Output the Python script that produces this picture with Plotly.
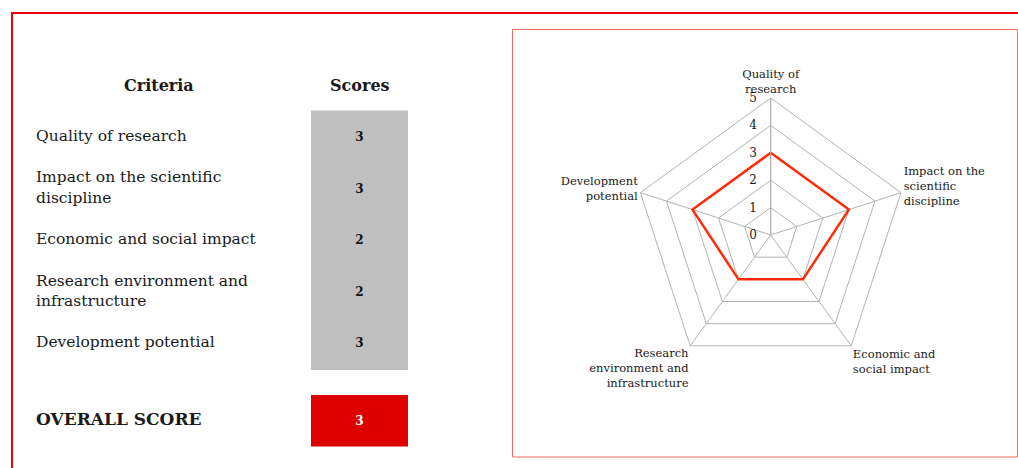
import plotly.graph_objects as go

# ---- data ----
criteria = ["Quality of research", "Impact on the scientific discipline",
            "Economic and social impact", "Research environment and infrastructure",
            "Development potential"]
criteria_table = ["Quality of research", "Impact on the scientific<br>discipline",
                  "Economic and social impact", "Research environment and<br>infrastructure",
                  "Development potential"]
criteria_radar = ["Quality of<br>research", "Impact on the<br>scientific<br>discipline",
                  "Economic and<br>social impact", "Research<br>environment and<br>infrastructure",
                  "Development<br>potential"]
scores = [3, 3, 2, 2, 3]
overall_label = "OVERALL SCORE"
overall_score = 3
radial_ticks = [0, 1, 2, 3, 4, 5]

W, H = 1018, 468
FONT = "DejaVu Serif"
TXT = "#1a1a1a"
rows = list(range(len(criteria)))
overall_row = len(criteria) + 0.5

fig = go.Figure()

# score column (gray cells)
fig.add_trace(go.Bar(
    orientation="h", y=rows, x=[97] * len(rows), base=311, width=1.03,
    marker=dict(color="#bfbfbf", line=dict(width=0)),
    text=[str(s) for s in scores], textposition="inside", insidetextanchor="middle",
    textangle=0, textfont=dict(family=FONT, size=12, color="#111", weight="bold"),
    xaxis="x", yaxis="y", showlegend=False, hoverinfo="skip"))
# overall cell (red)
fig.add_trace(go.Bar(
    orientation="h", y=[overall_row], x=[97], base=311, width=1,
    marker=dict(color="#dd0000", line=dict(width=0)),
    text=[str(overall_score)], textposition="inside", insidetextanchor="middle",
    textangle=0, textfont=dict(family=FONT, size=12, color="white", weight="bold"),
    xaxis="x", yaxis="y", showlegend=False, hoverinfo="skip"))
# criteria names
fig.add_trace(go.Scatter(
    x=[36] * len(rows), y=rows, mode="text", text=criteria_table,
    textposition="middle right", textfont=dict(family=FONT, size=15.5, color=TXT),
    xaxis="x", yaxis="y", showlegend=False, hoverinfo="skip"))
fig.add_trace(go.Scatter(
    x=[36], y=[overall_row], mode="text", text=[overall_label],
    textposition="middle right", textfont=dict(family=FONT, size=17, color=TXT, weight="bold"),
    xaxis="x", yaxis="y", showlegend=False, hoverinfo="skip"))

# radar
fig.add_trace(go.Scatterpolar(
    r=scores + [scores[0]], theta=criteria_radar + [criteria_radar[0]],
    mode="lines", line=dict(color="#ff2a0a", width=2.5),
    showlegend=False, hoverinfo="skip", subplot="polar"))

# layout
row_px0, row_step = 137.0, 51.6
y_top = -row_px0 / row_step
y_bot = (H - row_px0) / row_step

cx, cy, R = 770.7, 235.0, 137.0

fig.update_layout(
    width=W, height=H, margin=dict(l=0, r=0, t=0, b=0),
    paper_bgcolor="white", plot_bgcolor="white",
    xaxis=dict(domain=[0, 509 / W], range=[0, 509], visible=False, fixedrange=True),
    yaxis=dict(domain=[0, 1], range=[y_bot, y_top], visible=False, fixedrange=True),
    polar=dict(
        domain=dict(x=[(cx - R) / W, (cx + R) / W], y=[(H - cy - R) / H, (H - cy + R) / H]),
        gridshape="linear", bgcolor="white",
        radialaxis=dict(range=[0, 5], tickvals=radial_ticks, angle=90, tickangle=90,
                        side="counterclockwise",
                        showline=True, linecolor="#b3b3b3", linewidth=1,
                        gridcolor="#b3b3b3", ticks="outside", ticklen=9,
                        tickcolor="rgba(0,0,0,0)",
                        tickfont=dict(family=FONT, size=12, color=TXT)),
        angularaxis=dict(rotation=90, direction="clockwise", showline=True,
                         linecolor="#b3b3b3", linewidth=1, gridcolor="#b3b3b3", ticks="",
                         tickfont=dict(family=FONT, size=11.5, color=TXT)),
    ),
    annotations=[
        dict(x=159, y=-1, xref="x", yref="y", text="<b>Criteria</b>", showarrow=False,
             font=dict(family=FONT, size=16, color=TXT)),
        dict(x=359.5, y=-1, xref="x", yref="y", text="<b>Scores</b>", showarrow=False,
             font=dict(family=FONT, size=16, color=TXT)),
    ],
    shapes=[
        dict(type="rect", xref="paper", yref="paper", x0=12 / W, x1=1.02,
             y0=-0.05, y1=1 - 13 / H, line=dict(color="#ee0000", width=2)),
        dict(type="rect", xref="paper", yref="paper", x0=512.5 / W, x1=1017.5 / W,
             y0=1 - 457 / H, y1=1 - 29.5 / H, line=dict(color="#f26b5b", width=1)),
    ],
)

fig.write_html("out.html")
